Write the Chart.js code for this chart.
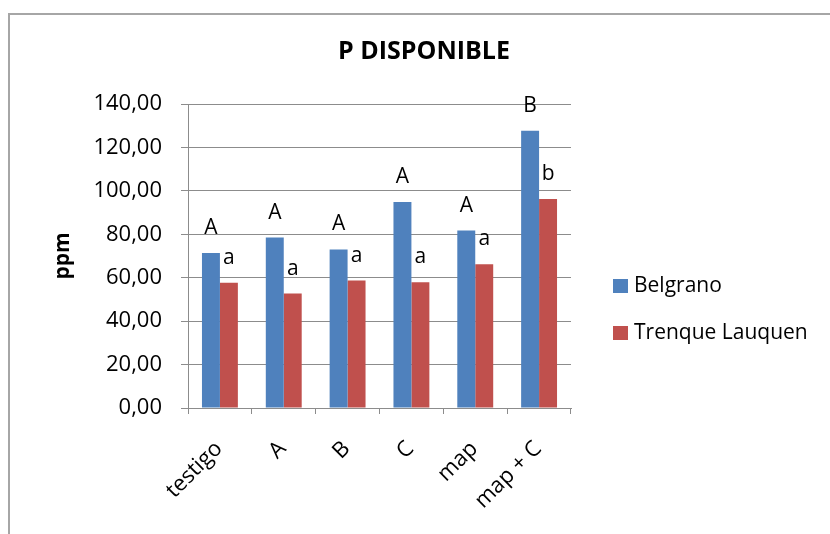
<!DOCTYPE html>
<html>
<head>
<meta charset="utf-8">
<script src="https://cdn.jsdelivr.net/npm/chart.js@4.4.1/dist/chart.umd.min.js"></script>
<style>
  html, body { margin: 0; padding: 0; background: #ffffff; }
  #wrap { width: 830px; height: 534px; }
</style>
</head>
<body>
<div id="wrap"><canvas id="chart" width="830" height="534"></canvas></div>
<script>
// P disponible (ppm) por tratamiento y localidad
const categories = ['testigo', 'A', 'B', 'C', 'map', 'map + C'];
const belgrano = [71.4, 78.5, 73.0, 94.9, 81.7, 127.7];
const trenqueLauquen = [57.7, 52.7, 58.7, 57.9, 66.2, 96.3];
const belgranoLetters = ['A', 'A', 'A', 'A', 'A', 'B'];
const trenqueLetters = ['a', 'a', 'a', 'a', 'a', 'b'];
const seriesNames = ['Belgrano', 'Trenque Lauquen'];
const yMin = 0, yMax = 140, yStep = 20;

const FONT = "'Open Sans', 'DejaVu Sans', sans-serif";
const BLUE = '#4F81BD';
const RED = '#C0504D';
const GRID = '#8c8c8c';

// outer frame of the chart object
const framePlugin = {
  id: 'frame',
  beforeDraw(chart) {
    const ctx = chart.ctx;
    ctx.save();
    ctx.fillStyle = '#ffffff';
    ctx.fillRect(0, 0, chart.width, chart.height);
    ctx.strokeStyle = '#a6a6a6';
    ctx.lineWidth = 2;
    ctx.strokeRect(9, 14, 900, 600);
    ctx.restore();
  }
};

// heading
const headingPlugin = {
  id: 'heading',
  afterDraw(chart) {
    const ctx = chart.ctx;
    ctx.save();
    ctx.font = "bold 25px " + FONT;
    ctx.fillStyle = '#000';
    ctx.textAlign = 'center';
    ctx.textBaseline = 'middle';
    ctx.fillText('P DISPONIBLE', 424, 52);
    ctx.restore();
  }
};

// significance letters above each bar
const lettersPlugin = {
  id: 'letters',
  afterDatasetsDraw(chart) {
    const ctx = chart.ctx;
    ctx.save();
    ctx.font = "21px " + FONT;
    ctx.fillStyle = '#000';
    ctx.textAlign = 'center';
    ctx.textBaseline = 'alphabetic';
    chart.data.datasets.forEach((ds, di) => {
      const meta = chart.getDatasetMeta(di);
      meta.data.forEach((bar, i) => {
        ctx.fillText(ds.letters[i], bar.x, bar.y - 19);
      });
    });
    ctx.restore();
  }
};

// legend at the right of the plot
const sideLegendPlugin = {
  id: 'sideLegend',
  afterDraw(chart) {
    const ctx = chart.ctx;
    ctx.save();
    ctx.font = "21px " + FONT;
    ctx.textAlign = 'left';
    ctx.textBaseline = 'middle';
    const rows = [286, 333];
    chart.data.datasets.forEach((ds, i) => {
      const y = rows[i];
      ctx.fillStyle = ds.backgroundColor;
      ctx.fillRect(613, y - 7, 15, 14);
      ctx.fillStyle = '#000';
      ctx.fillText(ds.label, 634, y);
    });
    ctx.restore();
  }
};

const fmt = v => v.toFixed(2).replace('.', ',');

new Chart(document.getElementById('chart'), {
  type: 'bar',
  data: {
    labels: categories,
    datasets: [
      { label: seriesNames[0], data: belgrano, letters: belgranoLetters,
        backgroundColor: BLUE, borderWidth: 0,
        categoryPercentage: 0.5625, barPercentage: 1.0 },
      { label: seriesNames[1], data: trenqueLauquen, letters: trenqueLetters,
        backgroundColor: RED, borderWidth: 0,
        categoryPercentage: 0.5625, barPercentage: 1.0 }
    ]
  },
  options: {
    responsive: false,
    animation: false,
    devicePixelRatio: 1,
    layout: { padding: { left: 0, right: 259, top: 104, bottom: 0 } },
    plugins: {
      legend: { display: false },
      title: { display: false },
      tooltip: { enabled: false }
    },
    scales: {
      x: {
        offset: true,
        grid: { display: true, drawOnChartArea: false, drawTicks: true, tickLength: 6, color: GRID, offset: true },
        border: { display: true, color: GRID, width: 1 },
        ticks: {
          color: '#000', font: { family: FONT, size: 22 },
          minRotation: 45, maxRotation: 45, padding: 22, labelOffset: -1, autoSkip: false
        },
        afterFit(scale) { scale.height = 126; }
      },
      y: {
        min: yMin, max: yMax,
        grid: { color: GRID, lineWidth: 1, tickLength: 7, drawTicks: true },
        border: { display: true, color: GRID, width: 1 },
        ticks: {
          stepSize: yStep, color: '#000', padding: 19,
          font: { family: FONT, size: 22 },
          callback: v => fmt(v)
        },
        title: {
          display: true, text: 'ppm', color: '#000',
          font: { family: FONT, size: 21, weight: 'bold' },
          padding: { top: 50, bottom: 0 }
        },
        afterFit(scale) { scale.width = 188; }
      }
    }
  },
  plugins: [framePlugin, headingPlugin, lettersPlugin, sideLegendPlugin]
});
</script>
</body>
</html>
